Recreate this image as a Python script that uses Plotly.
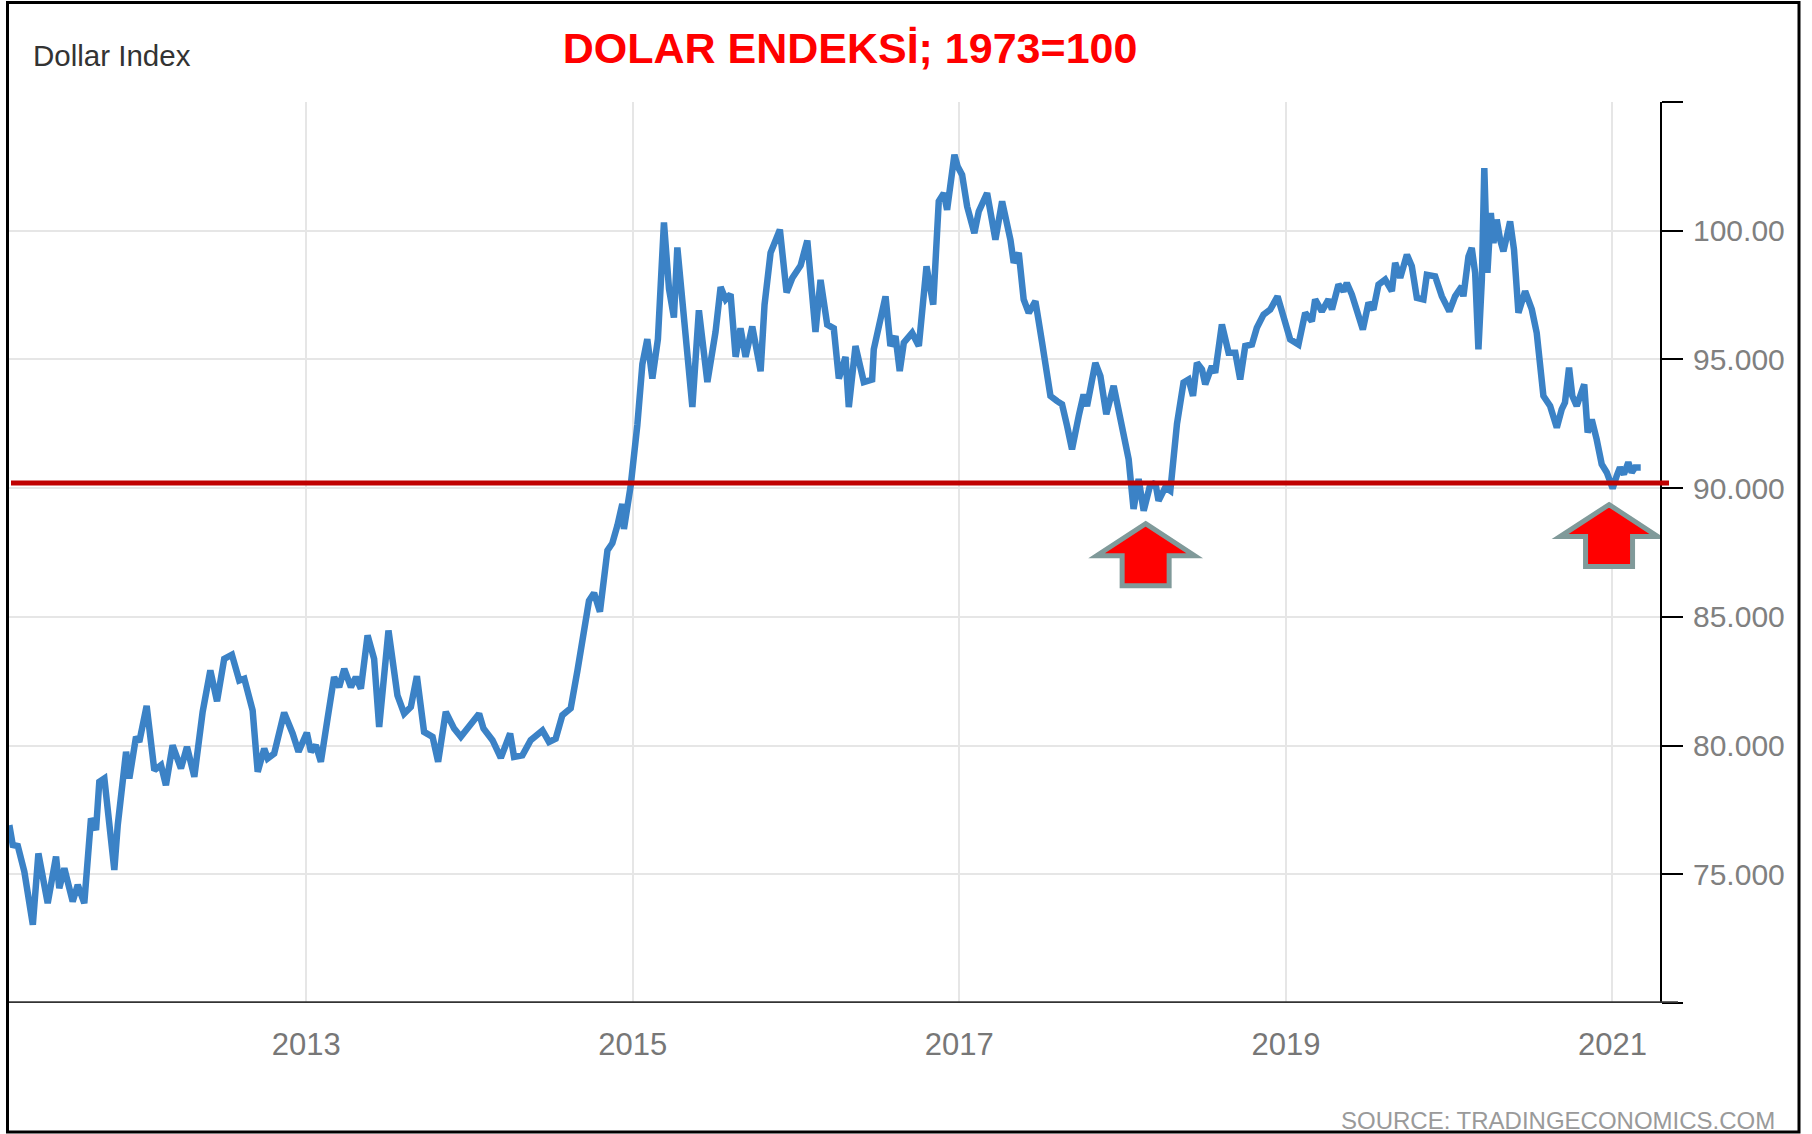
import plotly.graph_objects as go

# ---------------- data ----------------
years = [
    2011.182, 2011.203, 2011.234, 2011.274, 2011.326, 2011.360, 2011.417, 2011.468, 2011.488, 2011.519,
    2011.570, 2011.601, 2011.641, 2011.682, 2011.713, 2011.733, 2011.764, 2011.825, 2011.846, 2011.897,
    2011.917, 2011.958, 2011.978, 2012.023, 2012.070, 2012.111, 2012.141, 2012.182, 2012.233, 2012.270,
    2012.315, 2012.366, 2012.413, 2012.454, 2012.498, 2012.545, 2012.590, 2012.621, 2012.672, 2012.703,
    2012.743, 2012.764, 2012.804, 2012.865, 2012.917, 2012.953, 2013.004,
    2013.029, 2013.059, 2013.090, 2013.131, 2013.171, 2013.202, 2013.233, 2013.274, 2013.304, 2013.335,
    2013.376, 2013.416, 2013.447, 2013.504, 2013.559, 2013.600, 2013.641, 2013.678, 2013.722, 2013.774,
    2013.808, 2013.855, 2013.906, 2013.947, 2014.008, 2014.059, 2014.086, 2014.141, 2014.192, 2014.249,
    2014.273, 2014.324, 2014.375, 2014.447, 2014.487, 2014.528, 2014.569, 2014.620, 2014.661, 2014.732,
    2014.763, 2014.799, 2014.845, 2014.875, 2014.906, 2014.936, 2014.946, 2014.987,
    2015.028, 2015.059, 2015.089, 2015.120, 2015.154, 2015.191, 2015.222, 2015.252, 2015.273, 2015.304,
    2015.365, 2015.405, 2015.457, 2015.507, 2015.538, 2015.569, 2015.599, 2015.630, 2015.660, 2015.691,
    2015.732, 2015.783, 2015.807, 2015.844, 2015.901, 2015.942, 2015.977, 2016.028, 2016.069, 2016.119,
    2016.150, 2016.191, 2016.231, 2016.262, 2016.303, 2016.323, 2016.364, 2016.415, 2016.466, 2016.476,
    2016.548, 2016.578, 2016.609, 2016.635, 2016.660, 2016.711, 2016.752, 2016.799, 2016.840, 2016.874,
    2016.905, 2016.925, 2016.970, 2016.990,
    2017.017, 2017.048, 2017.092, 2017.119, 2017.170, 2017.221, 2017.262, 2017.313, 2017.333, 2017.364,
    2017.394, 2017.425, 2017.466, 2017.507, 2017.558, 2017.599, 2017.629, 2017.660, 2017.690, 2017.731,
    2017.761, 2017.782, 2017.833, 2017.864, 2017.900, 2017.945, 2017.976, 2018.006, 2018.037, 2018.067,
    2018.098, 2018.129, 2018.165, 2018.200, 2018.220, 2018.261, 2018.292, 2018.333, 2018.373, 2018.404,
    2018.431, 2018.455, 2018.486, 2018.506, 2018.547, 2018.567, 2018.608, 2018.649, 2018.690, 2018.720,
    2018.751, 2018.792, 2018.822, 2018.863, 2018.904, 2018.949, 2018.985,
    2019.026, 2019.077, 2019.118, 2019.159, 2019.179, 2019.220, 2019.261, 2019.282, 2019.322, 2019.353,
    2019.373, 2019.404, 2019.435, 2019.471, 2019.506, 2019.536, 2019.567, 2019.608, 2019.649, 2019.669,
    2019.700, 2019.741, 2019.771, 2019.802, 2019.842, 2019.863, 2019.914, 2019.955, 2020.001, 2020.036,
    2020.077, 2020.087, 2020.118, 2020.138, 2020.159, 2020.179, 2020.200, 2020.215, 2020.234, 2020.255,
    2020.271, 2020.291, 2020.312, 2020.332, 2020.353, 2020.373, 2020.397, 2020.424, 2020.465, 2020.506,
    2020.536, 2020.556, 2020.577, 2020.618, 2020.659, 2020.689, 2020.709, 2020.734, 2020.754, 2020.781,
    2020.801, 2020.827, 2020.848, 2020.873, 2020.903, 2020.934, 2020.965, 2021.001, 2021.026, 2021.046,
    2021.070, 2021.097, 2021.118, 2021.138, 2021.173,
]
dollar_index = [
    76.91, 76.14, 76.10, 75.10, 73.04, 75.81, 73.88, 75.69, 74.46, 75.23,
    73.94, 74.59, 73.88, 77.17, 76.72, 78.59, 78.72, 75.17, 76.91, 79.76,
    78.72, 80.34, 80.14, 81.54, 79.04, 79.24, 78.46, 80.01, 79.11, 79.95,
    78.79, 81.31, 82.92, 81.72, 83.37, 83.53, 82.53, 82.60, 81.37, 78.98,
    79.88, 79.50, 79.69, 81.28, 80.47, 79.76, 80.50,
    79.76, 80.01, 79.37, 81.05, 82.66, 82.27, 82.98, 82.27, 82.66, 82.21,
    84.28, 83.37, 80.72, 84.47, 81.95, 81.24, 81.50, 82.70, 80.53, 80.34,
    79.37, 81.31, 80.66, 80.34, 80.79, 81.24, 80.66, 80.21, 79.52, 80.47,
    79.56, 79.62, 80.21, 80.59, 80.14, 80.27, 81.18, 81.45, 82.90, 85.63,
    85.93, 85.20, 87.58, 87.86, 88.55, 89.39, 88.41, 90.08,
    92.45, 94.82, 95.79, 94.26, 95.79, 100.32, 97.74, 96.63, 99.35, 97.05,
    93.15, 96.91, 94.12, 96.07, 97.81, 97.33, 97.53, 95.10, 96.21, 95.10,
    96.28, 94.54, 97.12, 99.14, 100.04, 97.60, 98.16, 98.65, 99.62, 96.07,
    98.09, 96.35, 96.21, 94.26, 95.10, 93.15, 95.52, 94.12, 94.22, 95.39,
    97.45, 95.52, 95.90, 94.55, 95.65, 96.03, 95.52, 98.62, 97.13, 101.14,
    101.46, 100.81, 102.95, 102.49,
    102.17, 100.94, 99.91, 100.75, 101.46, 99.65, 101.14, 99.65, 98.75, 99.14,
    97.33, 96.81, 97.26, 95.65, 93.58, 93.38, 93.26, 92.41, 91.51, 92.80,
    93.64, 93.19, 94.87, 94.35, 92.87, 93.97, 93.06, 92.09, 91.12, 89.19,
    90.35, 89.12, 90.03, 90.22, 89.51, 90.03, 89.90, 92.50, 94.10, 94.22,
    93.58, 94.87, 94.61, 94.03, 94.74, 94.48, 96.36, 95.26, 95.26, 94.22,
    95.52, 95.58, 96.23, 96.74, 96.94, 97.45, 96.55,
    95.78, 95.58, 96.81, 96.48, 97.33, 96.87, 97.33, 96.94, 97.91, 97.65,
    97.97, 97.52, 96.81, 96.16, 97.20, 96.94, 97.91, 98.10, 97.65, 98.75,
    98.17, 99.07, 98.62, 97.39, 97.33, 98.29, 98.23, 97.45, 96.87, 97.45,
    97.84, 97.45, 99.00, 99.33, 98.36, 95.39, 98.10, 102.43, 98.36, 100.69,
    99.52, 100.43, 99.65, 99.20, 99.78, 100.36, 99.26, 96.81, 97.65, 96.94,
    96.03, 94.74, 93.58, 93.19, 92.35, 93.06, 93.32, 94.68, 93.58, 93.19,
    93.52, 94.03, 92.16, 92.67, 91.90, 90.93, 90.61, 89.99, 90.48, 90.80,
    90.54, 91.00, 90.61, 90.80, 90.80,
]

x_tick_vals = [2013, 2015, 2017, 2019, 2021]
x_tick_text = ["2013", "2015", "2017", "2019", "2021"]
y_tick_vals = [70, 75, 80, 85, 90, 95, 100, 105]
y_tick_text = ["", "75.000", "80.000", "85.000", "90.000", "95.000", "100.00", ""]

support_level = 90.2
arrow_years = [2018.141, 2020.979]
arrow_values = [88.62, 89.36]

# ---------------- layout geometry ----------------
W, H = 1812, 1134
ML, MR, MT, MB = 9, 152, 102, 131
PW = W - ML - MR
PH = H - MT - MB


def px_x(px):
    return (px - ML) / PW


def px_y(py):
    return (H - MB - py) / PH


FONT = "Liberation Sans, Arial, sans-serif"

fig = go.Figure()
fig.add_trace(go.Scatter(
    x=years, y=dollar_index, mode="lines",
    line=dict(color="#3b82c6", width=6.5),
    name="Dollar Index", showlegend=False,
))

shapes = []
# support level line
shapes.append(dict(type="line", xref="paper", yref="y",
                   x0=px_x(11), x1=px_x(1669), y0=support_level, y1=support_level,
                   line=dict(color="#c00000", width=5), layer="above"))
# x axis baseline (extends slightly past the y axis)
shapes.append(dict(type="line", xref="paper", yref="y",
                   x0=px_x(8), x1=px_x(1678), y0=70, y1=70,
                   line=dict(color="#333333", width=3.5), layer="above"))
# arrows
arrow_path = "M 0 0 L 49 -32 L 23.5 -32 L 23.5 -62 L -23.5 -62 L -23.5 -32 L -49 -32 Z"
for ax_, ay_ in zip(arrow_years, arrow_values):
    shapes.append(dict(type="path", xref="x", yref="y",
                       xsizemode="pixel", ysizemode="pixel",
                       xanchor=ax_, yanchor=ay_, path=arrow_path,
                       fillcolor="#ff0000", line=dict(color="#809a9a", width=5),
                       layer="above"))
# outer frame
shapes.append(dict(type="rect", xref="paper", yref="paper",
                   x0=px_x(7.5), x1=px_x(1799), y0=px_y(1132), y1=px_y(2.5),
                   line=dict(color="#000000", width=3), fillcolor="rgba(0,0,0,0)",
                   layer="above"))

annotations = [
    dict(text="Dollar Index", xref="paper", yref="paper",
         x=px_x(31), y=px_y(55), xanchor="left", yanchor="middle",
         showarrow=False, font=dict(family=FONT, size=29.5, color="#333333")),
    dict(text="SOURCE: TRADINGECONOMICS.COM", xref="paper", yref="paper",
         x=px_x(1777), y=px_y(1120), xanchor="right", yanchor="middle",
         showarrow=False, font=dict(family=FONT, size=24, color="#9a9a9a")),
]

fig.update_layout(
    width=W, height=H,
    margin=dict(l=ML, r=MR, t=MT, b=MB, pad=0),
    paper_bgcolor="white", plot_bgcolor="white",
    title=dict(text="<b>DOLAR ENDEKSİ; 1973=100</b>",
               x=850 / W, y=1 - 48 / H, xref="container", yref="container",
               xanchor="center", yanchor="middle",
               font=dict(family=FONT, size=43, color="#ff0000")),
    shapes=shapes,
    annotations=annotations,
    showlegend=False,
    xaxis=dict(
        range=[2011.18, 2021.291], tickmode="array",
        tickvals=x_tick_vals, ticktext=x_tick_text,
        showgrid=True, gridcolor="#e6e6e6", gridwidth=1.5,
        zeroline=False, showline=False, ticks="",
        ticklabelstandoff=20,
        tickfont=dict(family=FONT, size=31, color="#777777"),
    ),
    yaxis=dict(
        range=[70, 105], side="right", tickmode="array",
        tickvals=y_tick_vals, ticktext=y_tick_text,
        showgrid=True, gridcolor="#e6e6e6", gridwidth=1.5,
        zeroline=False, showline=True, linecolor="#000000", linewidth=2,
        ticks="outside", ticklen=21, tickwidth=2, tickcolor="#000000",
        ticklabelstandoff=4,
        tickfont=dict(family=FONT, size=30, color="#808080"),
    ),
)

fig.write_html(
    "out.html",
    config={"displayModeBar": False},
    post_script="document.body.style.margin='0px';document.body.style.overflow='hidden';",
)
